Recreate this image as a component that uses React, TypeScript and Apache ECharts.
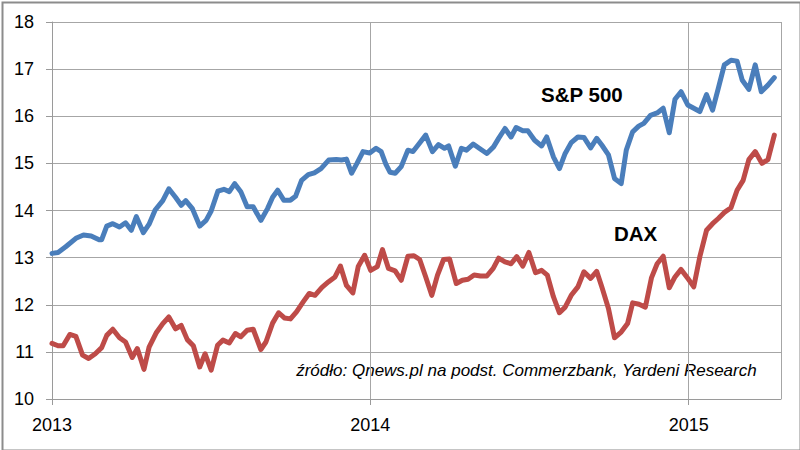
import React, { useEffect, useRef } from "react";
import * as echarts from "echarts";

// S&P 500 forward P/E (weekly), x in decimal years
const spYear = [
  2013.000, 2013.019, 2013.043, 2013.075, 2013.099, 2013.123, 2013.148, 2013.156, 2013.172, 2013.191,
  2013.212, 2013.231, 2013.249, 2013.265, 2013.287, 2013.305, 2013.324, 2013.348, 2013.367, 2013.388,
  2013.406, 2013.420, 2013.441, 2013.464, 2013.484, 2013.500, 2013.521, 2013.540, 2013.557, 2013.574,
  2013.593, 2013.613, 2013.632, 2013.656, 2013.677, 2013.693, 2013.709, 2013.728, 2013.749, 2013.765,
  2013.784, 2013.805, 2013.824, 2013.845, 2013.869, 2013.893, 2013.909, 2013.925, 2013.941, 2013.958,
  2013.977, 2013.998, 2014.018, 2014.034, 2014.049, 2014.062, 2014.078, 2014.097, 2014.118, 2014.134,
  2014.150, 2014.174, 2014.195, 2014.214, 2014.233, 2014.246, 2014.267, 2014.286, 2014.302, 2014.323,
  2014.342, 2014.366, 2014.387, 2014.403, 2014.423, 2014.442, 2014.458, 2014.479, 2014.495, 2014.516,
  2014.538, 2014.554, 2014.575, 2014.594, 2014.612, 2014.631, 2014.652, 2014.671, 2014.692, 2014.711,
  2014.727, 2014.748, 2014.767, 2014.788, 2014.804, 2014.824, 2014.843, 2014.859, 2014.880, 2014.901,
  2014.920, 2014.939, 2014.957, 2014.976, 2014.997, 2015.016, 2015.035, 2015.056, 2015.075, 2015.093,
  2015.112, 2015.133, 2015.152, 2015.168, 2015.189, 2015.209, 2015.228, 2015.249, 2015.269,
];
const spValue = [
  13.09, 13.11, 13.23, 13.41, 13.48, 13.46, 13.38, 13.38, 13.67, 13.72,
  13.65, 13.74, 13.58, 13.87, 13.53, 13.71, 14.01, 14.21, 14.46, 14.28,
  14.11, 14.21, 14.04, 13.67, 13.79, 13.99, 14.41, 14.45, 14.40, 14.57,
  14.40, 14.08, 14.08, 13.79, 14.04, 14.28, 14.43, 14.22, 14.22, 14.30,
  14.64, 14.76, 14.80, 14.89, 15.07, 15.08, 15.07, 15.09, 14.79, 15.00,
  15.25, 15.22, 15.32, 15.25, 14.98, 14.81, 14.79, 14.93, 15.28, 15.25,
  15.39, 15.60, 15.25, 15.40, 15.32, 15.37, 14.94, 15.32, 15.28, 15.41,
  15.32, 15.21, 15.35, 15.53, 15.74, 15.56, 15.76, 15.69, 15.69, 15.49,
  15.37, 15.56, 15.14, 14.89, 15.21, 15.44, 15.56, 15.55, 15.33, 15.53,
  15.39, 15.18, 14.68, 14.57, 15.28, 15.67, 15.79, 15.85, 16.02, 16.07,
  16.17, 15.65, 16.36, 16.52, 16.24, 16.17, 16.10, 16.46, 16.13, 16.59,
  17.09, 17.19, 17.17, 16.77, 16.57, 17.09, 16.52, 16.66, 16.82,
];

// DAX forward P/E (weekly)
const daxYear = [
  2013.000, 2013.019, 2013.035, 2013.056, 2013.075, 2013.096, 2013.115, 2013.136, 2013.156, 2013.172,
  2013.191, 2013.212, 2013.231, 2013.252, 2013.268, 2013.289, 2013.305, 2013.327, 2013.348, 2013.367,
  2013.388, 2013.406, 2013.425, 2013.444, 2013.464, 2013.481, 2013.500, 2013.520, 2013.537, 2013.557,
  2013.576, 2013.593, 2013.613, 2013.632, 2013.656, 2013.672, 2013.693, 2013.712, 2013.730, 2013.749,
  2013.768, 2013.789, 2013.808, 2013.826, 2013.848, 2013.869, 2013.889, 2013.906, 2013.925, 2013.945,
  2013.962, 2013.982, 2014.001, 2014.022, 2014.038, 2014.057, 2014.078, 2014.097, 2014.118, 2014.137,
  2014.155, 2014.174, 2014.193, 2014.211, 2014.230, 2014.249, 2014.270, 2014.289, 2014.307, 2014.326,
  2014.346, 2014.366, 2014.386, 2014.403, 2014.423, 2014.442, 2014.460, 2014.479, 2014.498, 2014.519,
  2014.538, 2014.556, 2014.575, 2014.594, 2014.612, 2014.631, 2014.652, 2014.671, 2014.692, 2014.711,
  2014.727, 2014.748, 2014.767, 2014.788, 2014.808, 2014.824, 2014.844, 2014.864, 2014.883, 2014.901,
  2014.920, 2014.939, 2014.957, 2014.976, 2014.997, 2015.016, 2015.035, 2015.056, 2015.075, 2015.093,
  2015.112, 2015.133, 2015.152, 2015.171, 2015.189, 2015.209, 2015.230, 2015.249, 2015.269,
];
const daxValue = [
  11.18, 11.13, 11.13, 11.37, 11.33, 10.93, 10.86, 10.96, 11.09, 11.35,
  11.48, 11.30, 11.21, 10.88, 11.07, 10.63, 11.10, 11.40, 11.60, 11.74,
  11.49, 11.56, 11.26, 11.13, 10.68, 10.96, 10.61, 11.14, 11.25, 11.19,
  11.39, 11.32, 11.46, 11.48, 11.05, 11.21, 11.61, 11.83, 11.72, 11.70,
  11.85, 12.06, 12.24, 12.20, 12.37, 12.49, 12.59, 12.82, 12.41, 12.25,
  12.81, 13.05, 12.73, 12.81, 13.17, 12.77, 12.72, 12.52, 13.03, 13.04,
  12.96, 12.59, 12.20, 12.63, 12.96, 12.97, 12.45, 12.52, 12.54, 12.63,
  12.61, 12.61, 12.77, 12.99, 12.91, 12.87, 13.02, 12.82, 13.11, 12.68,
  12.73, 12.63, 12.17, 11.83, 11.95, 12.20, 12.38, 12.70, 12.56, 12.71,
  12.38, 11.92, 11.30, 11.42, 11.60, 12.04, 12.01, 11.95, 12.57, 12.87,
  13.03, 12.36, 12.59, 12.75, 12.56, 12.38, 13.02, 13.58, 13.72, 13.83,
  13.96, 14.06, 14.43, 14.64, 15.08, 15.25, 15.00, 15.08, 15.60,
];

const yearTicks = [2013, 2014, 2015];
const seriesNames = ["S&P 500", "DAX"];
const sourceText = "źródło: Qnews.pl na podst. Commerzbank, Yardeni Research";

const FONT = "'Liberation Sans', Arial, sans-serif";

export default function App() {
  const ref = useRef<HTMLDivElement>(null);

  useEffect(() => {
    if (!ref.current) return;
    const chart = echarts.init(ref.current, null, { renderer: "svg" });
    const spData = spYear.map((x, i) => [x, spValue[i]]);
    const daxData = daxYear.map((x, i) => [x, daxValue[i]]);

    chart.setOption({
      animation: false,
      backgroundColor: "#ffffff",
      grid: { left: 52, right: 19, top: 22, bottom: 51 },
      xAxis: {
        type: "value",
        min: yearTicks[0],
        max: 2015.29,
        interval: 1,
        axisLine: { show: true, lineStyle: { color: "#9a9a9a", width: 1 } },
        axisTick: { show: true, length: 6, lineStyle: { color: "#9a9a9a" } },
        axisLabel: {
          color: "#000",
          fontSize: 18,
          fontFamily: FONT,
          margin: 17,
          showMaxLabel: false,
          formatter: (v: number) => (yearTicks.includes(v) ? String(v) : ""),
        },
        splitLine: { show: true, lineStyle: { color: "#a6a6a6", width: 1 } },
      },
      yAxis: {
        type: "value",
        min: 10,
        max: 18,
        interval: 1,
        axisLine: { show: true, lineStyle: { color: "#9a9a9a", width: 1 } },
        axisTick: { show: true, length: 6, lineStyle: { color: "#9a9a9a" } },
        axisLabel: { color: "#000", fontSize: 18, fontFamily: FONT, margin: 18 },
        splitLine: { show: true, lineStyle: { color: "#a6a6a6", width: 1 } },
      },
      series: [
        {
          name: seriesNames[0],
          type: "line",
          data: spData,
          showSymbol: false,
          symbol: "none",
          lineStyle: { color: "#4a7ebb", width: 5, cap: "round", join: "round" },
        },
        {
          name: seriesNames[1],
          type: "line",
          data: daxData,
          showSymbol: false,
          symbol: "none",
          lineStyle: { color: "#be4b48", width: 5, cap: "round", join: "round" },
        },
      ],
      graphic: [
        {
          type: "text",
          left: 541,
          top: 84,
          style: { text: seriesNames[0], fontSize: 20.5, fontWeight: "bold", fontFamily: FONT, fill: "#000" },
        },
        {
          type: "text",
          left: 614,
          top: 223,
          style: { text: seriesNames[1], fontSize: 20.5, fontWeight: "bold", fontFamily: FONT, fill: "#000" },
        },
        {
          type: "text",
          right: 43,
          top: 362,
          style: { text: sourceText, fontSize: 17, fontStyle: "italic", fontFamily: FONT, fill: "#000" },
        },
        {
          type: "rect",
          left: 0,
          top: 0,
          shape: { x: 1, y: 1, width: 798, height: 448 },
          style: { fill: "none", stroke: "#8c8c8c", lineWidth: 2 },
          silent: true,
        },
      ],
    });
    return () => chart.dispose();
  }, []);

  return (
    <div
      ref={ref}
      style={{ position: "absolute", left: 0, top: 0, width: 800, height: 450 }}
    />
  );
}
